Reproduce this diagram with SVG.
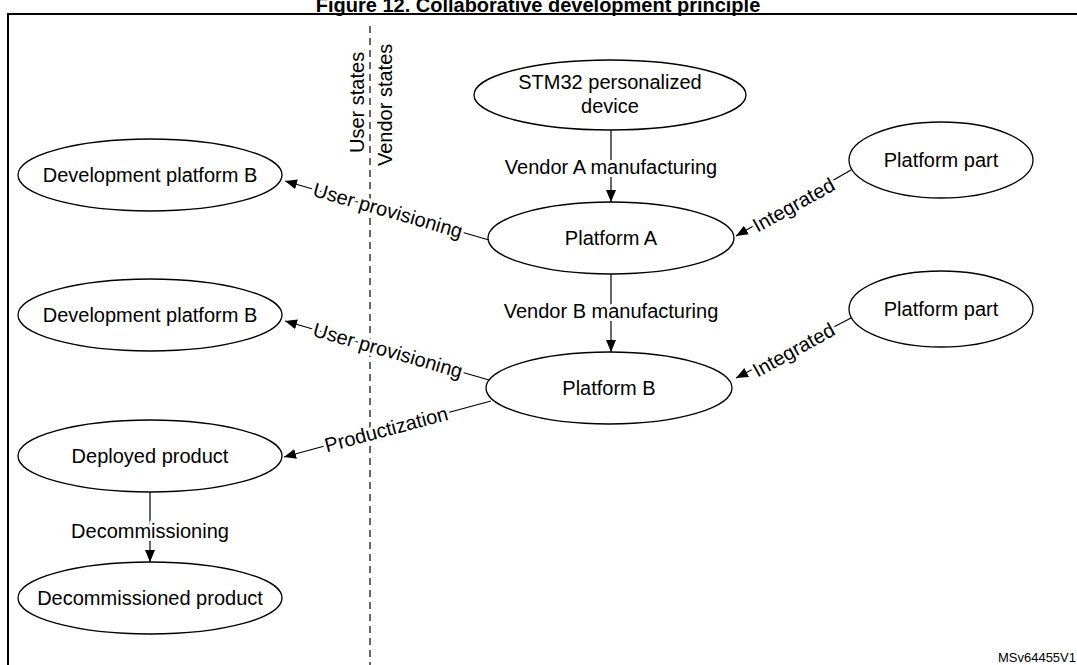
<svg xmlns="http://www.w3.org/2000/svg" width="1077" height="665" viewBox="0 0 1077 665">
<defs>
<marker id="ah" markerWidth="12" markerHeight="10" refX="12" refY="5" orient="auto" markerUnits="userSpaceOnUse"><path d="M0,0 L12,5 L0,10 z" fill="#000"/></marker>
<style>
text{font-family:"Liberation Sans",Arial,sans-serif;font-size:20px;fill:#000}
.n ellipse{fill:#fff;stroke:#000;stroke-width:1.3}
.n text{text-anchor:middle}
.c line{stroke:#000;stroke-width:1.2}
.lbl{text-anchor:middle;stroke:#fff;stroke-width:6px;paint-order:stroke;stroke-linejoin:round}
</style>
</defs>
<rect width="1077" height="665" fill="#fff"/>
<text x="538" y="12" text-anchor="middle" font-weight="bold" style="font-size:20px">Figure 12. Collaborative development principle</text>
<rect x="8" y="14" width="1080" height="670" fill="none" stroke="#000" stroke-width="2"/>
<line x1="370" y1="26" x2="370" y2="665" stroke="#000" stroke-width="1.2" stroke-dasharray="7,5"/>
<text transform="translate(364,153) rotate(-90)">User states</text>
<text transform="translate(392,166) rotate(-90)">Vendor states</text>
<g class="c" id="connectors">
<line x1="611" y1="130" x2="611" y2="202" marker-end="url(#ah)"/>
<text class="lbl" x="611" y="174">Vendor A manufacturing</text>
<line x1="611" y1="274" x2="611" y2="352" marker-end="url(#ah)"/>
<text class="lbl" x="611" y="318">Vendor B manufacturing</text>
<line x1="489" y1="240" x2="285" y2="181" marker-end="url(#ah)"/>
<text class="lbl" transform="translate(386,217) rotate(16)">User provisioning</text>
<line x1="489" y1="380" x2="285" y2="321" marker-end="url(#ah)"/>
<text class="lbl" transform="translate(386,357) rotate(16)">User provisioning</text>
<line x1="491" y1="401" x2="284" y2="457" marker-end="url(#ah)"/>
<text class="lbl" transform="translate(388,436) rotate(-15)">Productization</text>
<line x1="851" y1="170" x2="736" y2="236" marker-end="url(#ah)"/>
<text class="lbl" transform="translate(797,211) rotate(-29)">Integrated</text>
<line x1="851" y1="318" x2="736" y2="378" marker-end="url(#ah)"/>
<text class="lbl" transform="translate(797,356) rotate(-29)">Integrated</text>
<line x1="150" y1="492" x2="150" y2="562" marker-end="url(#ah)"/>
<text class="lbl" x="150" y="538">Decommissioning</text>
</g>
<g class="n" id="stm32"><ellipse cx="610" cy="95" rx="136" ry="35"/><text x="610" y="89">STM32 personalized</text><text x="610" y="113">device</text></g>
<g class="n" id="platformA"><ellipse cx="611" cy="238" rx="123" ry="36"/><text x="611" y="245">Platform A</text></g>
<g class="n" id="platformB"><ellipse cx="609" cy="388" rx="123" ry="36"/><text x="609" y="395">Platform B</text></g>
<g class="n" id="part1"><ellipse cx="941" cy="160" rx="92" ry="38"/><text x="941" y="167">Platform part</text></g>
<g class="n" id="part2"><ellipse cx="941" cy="309" rx="92" ry="38"/><text x="941" y="316">Platform part</text></g>
<g class="n" id="devB1"><ellipse cx="150" cy="175" rx="132" ry="36"/><text x="150" y="182">Development platform B</text></g>
<g class="n" id="devB2"><ellipse cx="150" cy="315" rx="132" ry="36"/><text x="150" y="322">Development platform B</text></g>
<g class="n" id="deployed"><ellipse cx="150" cy="456" rx="132" ry="36"/><text x="150" y="463">Deployed product</text></g>
<g class="n" id="decom"><ellipse cx="150" cy="598" rx="132" ry="36"/><text x="150" y="605">Decommissioned product</text></g>
<text x="1076" y="662" text-anchor="end" style="font-size:13px">MSv64455V1</text>
</svg>
